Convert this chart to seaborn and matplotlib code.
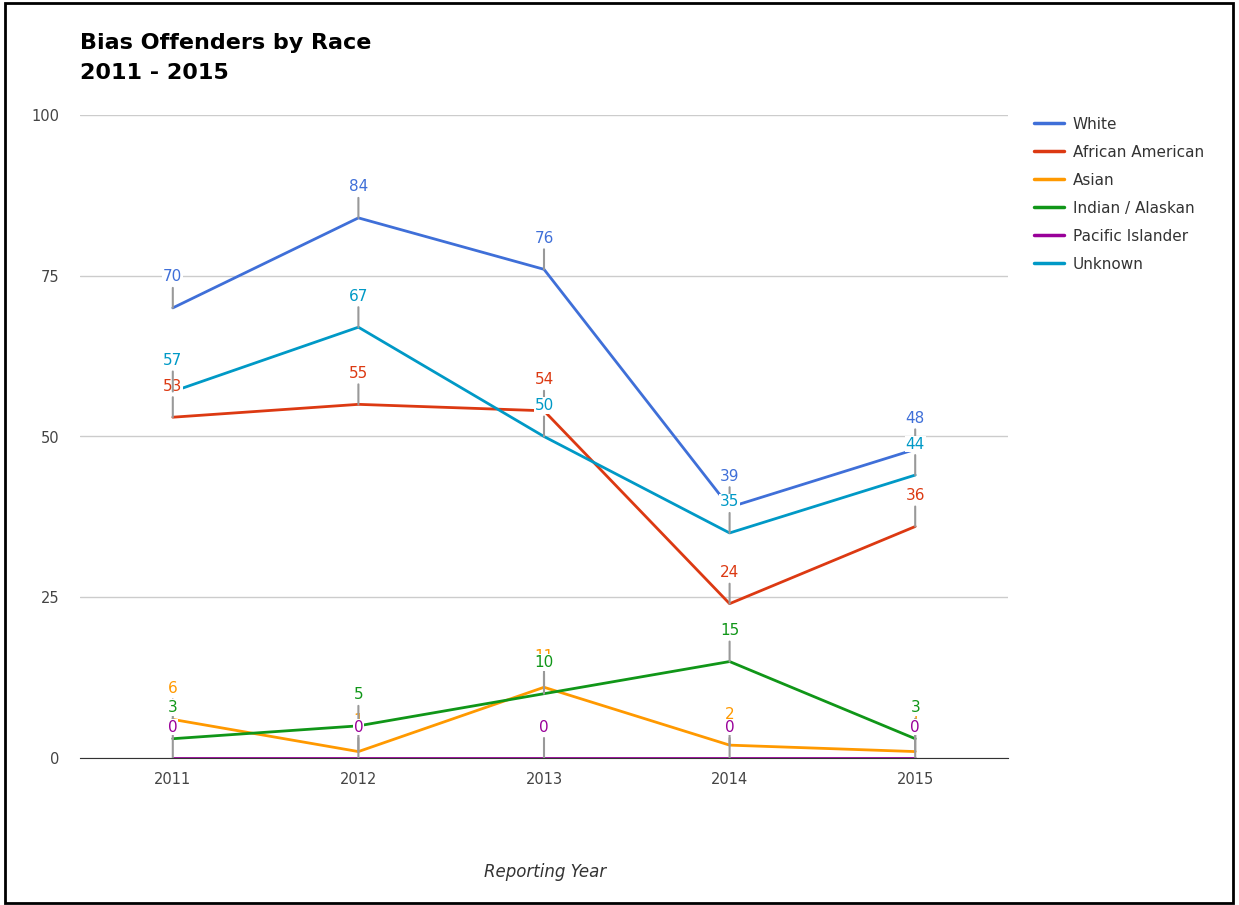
import pandas as pd
import numpy as np
import seaborn as sns
import matplotlib.pyplot as plt
from matplotlib.patches import Rectangle

# Dados
anos = [2011, 2012, 2013, 2014, 2015]
white = [70, 84, 76, 39, 48]
african_american = [53, 55, 54, 24, 36]
asian = [6, 1, 11, 2, 1]
indian_alaskan = [3, 5, 10, 15, 3]
pacific_islander = [0, 0, 0, 0, 0]
unknown = [57, 67, 50, 35, 44]

series = ["White", "African American", "Asian", "Indian / Alaskan",
          "Pacific Islander", "Unknown"]
valores = [white, african_american, asian, indian_alaskan, pacific_islander, unknown]
cores = ["#3f6fd8", "#dc3912", "#ff9900", "#109618", "#990099", "#0099c6"]

df = pd.DataFrame({
    "Ano": anos * len(series),
    "Valor": [v for vals in valores for v in vals],
    "Raca": [s for s in series for _ in anos],
})

sns.set_style("white")
plt.rcParams["font.family"] = ["DejaVu Sans"]

fig = plt.figure(figsize=(12.39, 9.05), dpi=100)
ax = fig.add_axes([80 / 1239, 1 - 758 / 905, 928 / 1239, 643 / 905])

sns.lineplot(data=df, x="Ano", y="Valor", hue="Raca", palette=cores,
             hue_order=series, linewidth=2, ax=ax, legend=False)

ax.set_xlim(2010.5, 2015.5)
ax.set_ylim(0, 100)
ax.set_xticks(anos)
ax.set_yticks([0, 25, 50, 75, 100])
ax.tick_params(axis="both", length=0, labelsize=10.5, labelcolor="#444444")
ax.tick_params(axis="x", pad=10)
ax.tick_params(axis="y", pad=15)
ax.grid(axis="y", color="#cccccc", linewidth=1)
for s in ["top", "right", "left"]:
    ax.spines[s].set_visible(False)
ax.spines["bottom"].set_color("#333333")
ax.spines["bottom"].set_zorder(3)
ax.set_xlabel("")
ax.set_ylabel("")

# Rótulos com haste (estilo Google Charts)
for cor, vals in zip(cores, valores):
    for ano, v in zip(anos, vals):
        ax.annotate("", xy=(ano, v), xytext=(0, 20), textcoords="offset pixels",
                    arrowprops=dict(arrowstyle="-", color="#999999", lw=1.5,
                                    shrinkA=0, shrinkB=0))
        ax.annotate(str(v), xy=(ano, v), xytext=(0, 31), textcoords="offset pixels",
                    ha="center", va="center", fontsize=11, color=cor,
                    bbox=dict(boxstyle="square,pad=0.05", fc="white", ec="none"))

# Legenda
handles = [plt.Line2D([], [], color=c, lw=2.5) for c in cores]
fig.legend(handles, series, loc="upper left", bbox_to_anchor=(1020 / 1239, 1 - 103 / 905),
           frameon=False, fontsize=11, handlelength=2.0, labelspacing=0.85,
           handletextpad=0.55, labelcolor="#333333")

fig.text(80 / 1239, 1 - 43 / 905, "Bias Offenders by Race", ha="left",
         va="center", fontsize=16, fontweight="bold", color="black")
fig.text(80 / 1239, 1 - 73 / 905, "2011 - 2015", ha="left",
         va="center", fontsize=16, fontweight="bold", color="black")
fig.text(545 / 1239, 1 - 872 / 905, "Reporting Year", ha="center", va="center",
         fontsize=12, style="italic", color="#333333")

# Moldura
fig.patches.append(Rectangle((5 / 1239, 2 / 905), 1228 / 1239, 900 / 905,
                             transform=fig.transFigure, fill=False, ec="black", lw=2))

fig.savefig("out.png", dpi=100)
